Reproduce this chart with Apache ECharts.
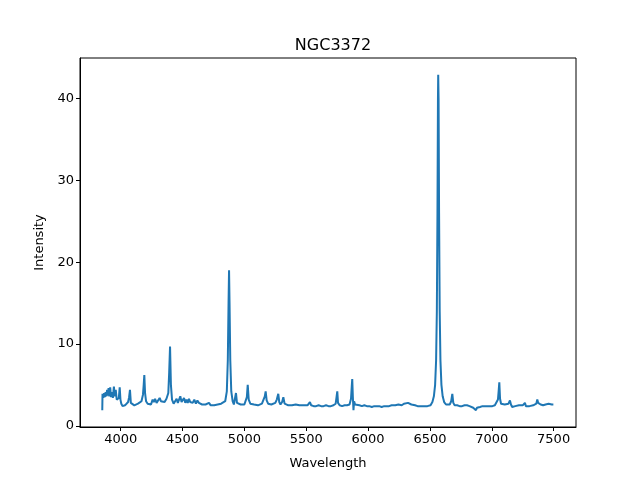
<!DOCTYPE html>
<html>
<head>
<meta charset="utf-8">
<script src="https://cdn.jsdelivr.net/npm/echarts@6/dist/echarts.min.js"></script>
<style>html,body{margin:0;padding:0;background:#fff;}#c{width:640px;height:480px;}</style>
</head>
<body>
<div id="c"></div>
<script>
const wavelength = [
3851,3853,3860,3866,3872,3878,3884,3890,3896,3902,3908,3915,3922,3930,3937,3945,3952,3960,3968,3977,3985,3992,3998,
4005,4015,4025,4035,4045,4060,4068,4075,4082,4095,4110,4125,4140,4155,4168,4180,4186,4191,4197,4205,4218,4232,4245,
4258,4268,4278,4290,4302,4315,4325,4340,4355,4370,4385,4392,4399,4406,4415,4428,4440,4452,4462,4472,4482,4492,4502,
4512,4522,4532,4542,4552,4562,4572,4582,4595,4608,4620,4632,4645,4658,4672,4686,4700,4714,4728,4742,4756,4770,4784,
4798,4812,4828,4845,4858,4866,4872,4876,4880,4886,4894,4905,4915,4924,4932,4940,4955,4970,4985,5000,5012,5020,5027,
5035,5048,5062,5078,5094,5110,5126,5142,5155,5165,5172,5180,5192,5205,5218,5232,5250,5262,5274,5282,5292,5305,5315,
5325,5340,5355,5370,5385,5400,5415,5430,5445,5460,5475,5490,5510,5522,5530,5540,5560,5580,5600,5620,5640,5660,5680,
5700,5720,5738,5745,5751,5757,5770,5790,5810,5830,5850,5862,5868,5872,5877,5882,5887,5895,5910,5930,5950,5970,5990,
6010,6030,6050,6070,6090,6110,6130,6150,6170,6190,6205,6220,6235,6245,6258,6272,6290,6305,6323,6335,6350,6365,6380,
6400,6420,6440,6460,6480,6505,6520,6532,6542,6550,6556,6561,6565,6567,6570,6574,6579,6585,6593,6603,6615,6630,6645,
6660,6672,6681,6689,6700,6720,6740,6760,6780,6800,6820,6835,6850,6862,6872,6880,6890,6905,6925,6945,6965,6985,7005,
7025,7040,7050,7056,7061,7067,7075,7090,7105,7120,7135,7147,7155,7165,7175,7190,7205,7220,7235,7250,7262,7268,7276,
7290,7305,7320,7335,7350,7360,7368,7375,7385,7395,7405,7415,7425,7435,7448,7460,7472,7485,7498
];
const intensity = [
1.9,3.9,3.4,4.0,3.5,4.1,3.6,4.4,3.7,4.6,3.6,4.7,3.5,4.1,3.4,4.8,3.6,4.4,3.2,3.0,3.4,4.7,3.2,
2.7,2.4,2.2,2.5,2.6,2.9,3.5,4.4,2.8,2.6,2.5,2.6,2.7,2.8,3.0,3.8,5.0,6.2,4.0,3.0,2.7,2.8,2.6,
3.2,2.9,3.3,2.8,3.0,3.4,3.0,2.8,2.9,3.3,4.0,6.5,9.7,5.0,3.2,2.7,2.8,3.3,2.8,3.0,3.6,2.9,3.1,
3.4,2.8,3.2,2.8,3.3,2.9,3.1,2.8,3.2,2.7,3.1,2.8,3.0,2.6,2.7,2.6,2.7,2.8,2.5,2.6,2.5,2.7,2.6,
2.6,2.7,2.9,3.0,4.2,8.0,15.0,19.0,15.0,8.0,4.2,3.0,2.6,2.8,4.0,2.8,2.6,2.6,2.5,2.6,2.8,3.5,5.0,
3.2,2.7,2.6,2.6,2.6,2.5,2.6,2.7,2.9,3.6,4.2,3.1,2.7,2.8,2.6,2.8,2.8,3.2,3.9,2.9,2.6,2.9,3.5,
2.7,2.6,2.5,2.6,2.5,2.5,2.6,2.4,2.5,2.4,2.5,2.5,2.5,2.6,2.9,2.5,2.4,2.4,2.5,2.4,2.4,2.5,2.4,
2.4,2.5,2.7,3.5,4.2,2.8,2.5,2.4,2.5,2.5,2.6,3.3,4.8,5.7,3.5,1.9,3.0,2.6,2.5,2.5,2.4,2.5,2.4,
2.4,2.3,2.4,2.4,2.4,2.3,2.4,2.4,2.4,2.5,2.6,2.5,2.3,2.6,2.7,2.5,2.7,2.6,2.8,2.6,2.6,2.5,2.5,
2.4,2.4,2.4,2.4,2.4,2.5,2.9,3.6,5.0,8.0,14.0,26.0,40.0,42.9,40.0,26.0,14.0,8.0,5.0,3.6,2.9,2.6,2.5,
2.6,3.0,3.9,2.8,2.5,2.5,2.4,2.4,2.5,2.5,2.4,2.4,2.2,2.1,1.9,2.2,2.1,2.3,2.4,2.4,2.4,2.4,2.4,
2.5,2.6,3.2,4.3,5.3,3.3,2.7,2.5,2.6,2.8,2.7,3.1,2.6,2.3,2.5,2.4,2.2,2.5,2.4,2.5,2.4,2.8,2.4,
2.5,2.4,2.6,2.5,2.6,2.7,3.2,2.8,2.7,2.6,2.8,2.5,2.7,2.6,2.6,2.7,2.5,2.6,2.6
];
const xTicks = [4000,4500,5000,5500,6000,6500,7000,7500];
const yTicks = [0,10,20,30,40];

const points = wavelength.map((w, i) => [w, intensity[i]]);
const chart = echarts.init(document.getElementById('c'), null, {renderer: 'canvas'});
const font = 'DejaVu Sans';
chart.setOption({
  animation: false,
  backgroundColor: '#ffffff',
  title: {
    text: 'NGC3372', left: 328, top: 33, textAlign: 'center',
    textStyle: {fontFamily: font, fontSize: 16, fontWeight: 'normal', color: '#000'}
  },
  grid: {left: 80, right: 64, top: 58, bottom: 53, show: true, borderColor: '#000', borderWidth: 1, containLabel: false},
  xAxis: {
    type: 'value', min: 3671, max: 7681,
    name: 'Wavelength', nameLocation: 'middle', nameGap: 30,
    nameTextStyle: {fontFamily: font, fontSize: 13, color: '#000'},
    axisLine: {show: true, onZero: false, lineStyle: {color: '#000', width: 1}},
    axisTick: {show: true, length: 4, lineStyle: {color: '#000'}, customValues: xTicks},
    axisLabel: {fontFamily: font, fontSize: 13, color: '#000', margin: 6, customValues: xTicks, formatter: v => String(v)},
    splitLine: {show: false}
  },
  yAxis: {
    type: 'value', min: -0.15, max: 44.95,
    name: 'Intensity', nameLocation: 'middle', nameGap: 34, nameRotate: 90,
    nameTextStyle: {fontFamily: font, fontSize: 13, color: '#000'},
    axisLine: {show: true, onZero: false, lineStyle: {color: '#000', width: 1}},
    axisTick: {show: true, length: 4, lineStyle: {color: '#000'}, customValues: yTicks},
    axisLabel: {fontFamily: font, fontSize: 13, color: '#000', margin: 6, customValues: yTicks, formatter: v => String(v)},
    splitLine: {show: false}
  },
  series: [{
    type: 'line', data: points, showSymbol: false, symbol: 'none',
    lineStyle: {color: '#1f77b4', width: 2}, itemStyle: {color: '#1f77b4'}
  }]
});
</script>
</body>
</html>
